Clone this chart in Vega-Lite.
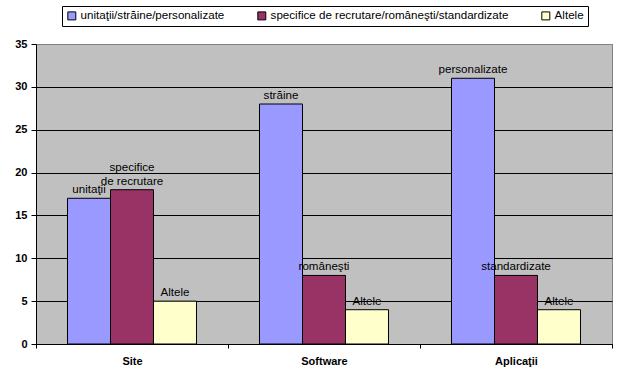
{
  "$schema": "https://vega.github.io/schema/vega-lite/v6.json",
  "width": 576,
  "height": 300,
  "autosize": {"type": "none"},
  "padding": {"left": 36, "top": 44, "right": 11, "bottom": 39},
  "background": "white",
  "config": {
    "view": {"fill": "#C0C0C0", "stroke": "#808080"},
    "font": "Liberation Sans"
  },
  "data": {
    "values": [
      {"cat": "Site", "series": "unitaţii/străine/personalizate", "value": 17, "label": "unitaţii", "label_top": null},
      {"cat": "Site", "series": "specifice de recrutare/româneşti/standardizate", "value": 18, "label": "de recrutare", "label_top": "specifice"},
      {"cat": "Site", "series": "Altele", "value": 5, "label": "Altele", "label_top": null},
      {"cat": "Software", "series": "unitaţii/străine/personalizate", "value": 28, "label": "străine", "label_top": null},
      {"cat": "Software", "series": "specifice de recrutare/româneşti/standardizate", "value": 8, "label": "româneşti", "label_top": null},
      {"cat": "Software", "series": "Altele", "value": 4, "label": "Altele", "label_top": null},
      {"cat": "Aplicaţii", "series": "unitaţii/străine/personalizate", "value": 31, "label": "personalizate", "label_top": null},
      {"cat": "Aplicaţii", "series": "specifice de recrutare/româneşti/standardizate", "value": 8, "label": "standardizate", "label_top": null},
      {"cat": "Aplicaţii", "series": "Altele", "value": 4, "label": "Altele", "label_top": null}
    ]
  },
  "encoding": {
    "x": {
      "field": "cat",
      "type": "nominal",
      "sort": ["Site", "Software", "Aplicaţii"],
      "scale": {"paddingInner": 0, "paddingOuter": 0},
      "axis": {
        "title": null,
        "labelAngle": 0,
        "labelFontWeight": "bold",
        "labelFontSize": 11,
        "labelColor": "black",
        "domainColor": "black",
        "ticks": true,
        "tickBand": "extent",
        "tickSize": 4,
        "tickColor": "black",
        "labelPadding": 7
      }
    },
    "xOffset": {
      "field": "series",
      "type": "nominal",
      "sort": ["unitaţii/străine/personalizate", "specifice de recrutare/româneşti/standardizate", "Altele"],
      "scale": {"paddingOuter": 0.733, "paddingInner": 0}
    },
    "y": {
      "field": "value",
      "type": "quantitative",
      "scale": {"domain": [0, 35], "nice": false},
      "axis": {
        "title": null,
        "values": [0, 5, 10, 15, 20, 25, 30, 35],
        "grid": true,
        "gridColor": {"condition": {"test": "datum.value === 35", "value": "#808080"}, "value": "black"},
        "gridOpacity": 1,
        "domainColor": "black",
        "tickColor": "black",
        "tickSize": 5,
        "labelFontWeight": "bold",
        "labelFontSize": 11,
        "labelColor": "black",
        "labelPadding": 4
      }
    }
  },
  "layer": [
    {
      "mark": {"type": "bar", "stroke": "black", "strokeWidth": 1},
      "encoding": {
        "color": {
          "field": "series",
          "type": "nominal",
          "scale": {
            "domain": ["unitaţii/străine/personalizate", "specifice de recrutare/româneşti/standardizate", "Altele"],
            "range": ["#9999FF", "#993366", "#FFFFCC"]
          },
          "legend": {
            "orient": "none",
            "legendX": 26,
            "legendY": -38,
            "direction": "horizontal",
            "title": null,
            "symbolType": "square",
            "symbolSize": 64,
            "symbolStrokeColor": "black",
            "symbolStrokeWidth": 1,
            "symbolOpacity": 1,
            "labelFontSize": 11.6,
            "labelColor": "black",
            "labelLimit": 400,
            "labelOffset": 3,
            "columnPadding": 30,
            "strokeColor": "black",
            "fillColor": "white",
            "padding": 4
          }
        }
      }
    },
    {
      "mark": {"type": "text", "baseline": "bottom", "dy": -3, "fontSize": 11.6, "color": "black"},
      "encoding": {"text": {"field": "label"}}
    },
    {
      "transform": [{"filter": "datum.label_top != null"}],
      "mark": {"type": "text", "baseline": "bottom", "dy": -17, "fontSize": 11.6, "color": "black"},
      "encoding": {"text": {"field": "label_top"}}
    }
  ]
}
